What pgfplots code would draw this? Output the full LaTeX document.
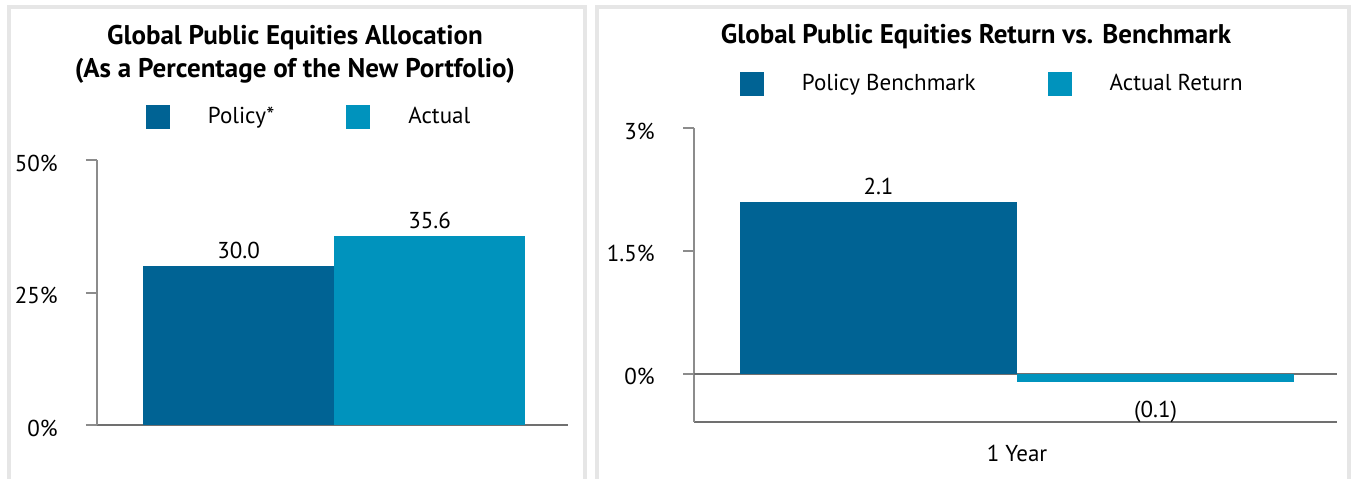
\documentclass[border=0pt]{standalone}
\usepackage{fontspec}
\setmainfont{PT Sans}
\usepackage{pgfplots}
\pgfplotsset{compat=1.18}

\definecolor{policy}{HTML}{006394}
\definecolor{actual}{HTML}{0093BD}
\definecolor{axisgray}{HTML}{8C8C8C}
\definecolor{linegray}{HTML}{707070}
\definecolor{panel}{HTML}{E6E6E6}

\newcommand{\txt}{\fontsize{11.5}{14}\selectfont}

\pgfplotsset{
  chart/.style={
    scale only axis, clip=false,
    axis lines*=left,
    axis line style={axisgray, line width=1pt},
    x axis line style={linegray},
    ybar, bar width=1,
    tick align=outside, major tick length=5.5pt,
    ytick style={axisgray, line width=1pt},
    xtick style={draw=none},
    tick label style={font=\txt},
    yticklabel style={inner sep=0pt, xshift=-14pt, yshift=-1.5pt},
    point meta=explicit symbolic,
    nodes near coords={\pgfplotspointmeta},
    nodes near coords style={font=\txt, black},
    legend columns=2,
    legend style={draw=none, fill=none, inner sep=0pt, outer sep=0pt,
      anchor=west, font=\txt, nodes={inner sep=0pt},
      /tikz/every odd column/.style={column sep=19pt},
      /tikz/every even column/.style={column sep=36pt}},
  },
  sq/.style={legend image code/.code={\fill[##1] (0pt,-6pt) rectangle (12pt,6pt);}},
}

\begin{document}
\begin{tikzpicture}
\useasboundingbox (0,0) rectangle (678.5pt,239.5pt);

% panel frames
\draw[panel, line width=2pt] (4.25pt,0) |- (292.5pt,236pt) -- (292.5pt,0);
\draw[panel, line width=2pt] (298.5pt,0) |- (674.5pt,236pt) -- (674.5pt,0);

% titles
\node[font=\bfseries\fontsize{13.5}{16.5}\selectfont, align=center] at (147.5pt,212.5pt)
  {Global Public Equities Allocation\\(As a Percentage of the New Portfolio)};
\node[font=\bfseries\fontsize{13.5}{16.5}\selectfont] at (488pt,221pt)
  {Global Public Equities Return vs. Benchmark};

% left: allocation
\begin{axis}[chart,
  at={(48.5pt,27pt)}, anchor=south west,
  width=235.5pt, height=132.5pt,
  xmin=-1.241, xmax=1.225, ymin=0, ymax=50,
  xtick=\empty,
  ytick={0,25,50}, yticklabels={0\%,25\%,50\%},
  legend style={at={(axis description cs:0.104,1.162)}},
]
\addplot[sq, fill=policy, draw=none, bar shift=-0.5] coordinates {(0,30.0) [30.0]};
\addlegendentry{Policy*}
\addplot[sq, fill=actual, draw=none, bar shift=0.5] coordinates {(0,35.6) [35.6]};
\addlegendentry{Actual}
\end{axis}

% right: return vs benchmark
\begin{axis}[chart,
  at={(347pt,28.5pt)}, anchor=south west,
  width=321.5pt, height=147pt,
  xmin=-1.166, xmax=1.155, ymin=-0.59, ymax=3,
  xtick={0}, xticklabels={1 Year},
  xticklabel style={yshift=-2.5pt},
  ytick={0,1.5,3}, yticklabels={0\%,1.5\%,3\%},
  extra y ticks={0}, extra y tick labels={},
  extra y tick style={grid=major, major grid style={linegray, line width=1pt}},
  legend style={at={(axis description cs:0.0715,1.149)}},
]
\addplot[sq, fill=policy, draw=none, bar shift=-0.5] coordinates {(0,2.1) [2.1]};
\addlegendentry{Policy Benchmark}
\addplot[sq, fill=actual, draw=none, bar shift=0.5,
  every node near coord/.append style={anchor=north, yshift=-6pt}]
  coordinates {(0,-0.1) [(0.1)]};
\addlegendentry{Actual Return}
\end{axis}
\end{tikzpicture}
\end{document}
